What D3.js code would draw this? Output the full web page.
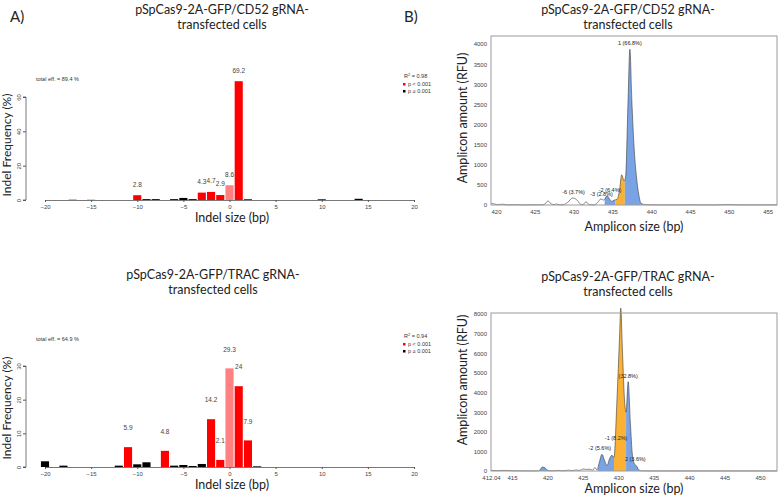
<!DOCTYPE html>
<html><head><meta charset="utf-8">
<script src="https://cdn.jsdelivr.net/npm/d3@7"></script>
<style>body{margin:0;background:#fff;} svg{display:block;}</style>
</head><body>
<svg id="c" width="778" height="499"></svg>
<script>
// ---------- DATA ----------
const indelTicks = [-20, -15, -10, -5, 0, 5, 10, 15, 20];

const cd52Indel = [-17, -15, -10, -9, -8, -6, -5, -4, -3, -2, -1, 0, 1, 2, 10, 14];
const cd52Freq  = [0.15, 0.1, 2.8, 0.5, 0.5, 0.5, 1.2, 0.5, 4.3, 4.7, 2.9, 8.6, 69.2, 0.4, 0.4, 0.7];
const cd52Class = ["ns","ns","sig","ns","ns","ns","ns","ns","sig","sig","sig","wt","sig","ns","ns","ns"];
const cd52FreqTicks = [0, 20, 40, 60];

const tracIndel = [-20, -18, -12, -11, -10, -9, -7, -6, -5, -4, -3, -2, -1, 0, 1, 2, 3];
const tracFreq  = [1.7, 0.4, 0.4, 5.9, 0.8, 1.4, 4.8, 0.4, 0.6, 0.3, 0.9, 14.2, 2.1, 29.3, 24, 7.9, 0.2];
const tracClass = ["ns","ns","ns","sig","ns","ns","sig","ns","ns","ns","ns","sig","sig","wt","sig","sig","ns"];
const tracFreqTicks = [0, 10, 20, 30];

const cd52Stats = ["total eff. = 89.4 %", "0.98"];
const tracStats = ["total eff. = 64.9 %", "0.94"];
const legendLabels = ["p < 0.001", "p \u2265 0.001"];

// electropherogram traces (size in bp, amount in RFU)
const cd52TraceSize = [419.4,419.8,420.2,420.8,421.5,422.5,423.5,424.5,425.5,426.2,426.7,427.1,427.5,427.8,428.2,428.7,429.2,429.9,430.5,430.9,431.2,431.6,432.0,432.6,433.1,433.5,433.9,434.3,434.7,434.9,435.2,435.6,435.9,436.2,436.5,436.7,437.0,437.25,437.5,437.8,438.1,438.4,438.7,439.2,440,442,445,448,450,451,453,456.2];
const cd52TraceRfu  = [40,25,10,20,5,8,3,5,5,10,100,30,10,25,5,10,60,175,110,20,10,80,10,5,60,150,120,230,130,90,120,140,350,750,600,700,2500,3870,2600,1400,700,250,40,10,5,3,5,3,10,5,3,5];
const cd52FillStart = [434.0, 435.4, 436.6];
const cd52FillEnd   = [435.4, 436.6, 438.9];
const cd52FillKind  = ["blue", "orange", "blue"];
const cd52PeakText  = ["1 (66.8%)", "-6 (3.7%)", "-3 (2.8%)", "-2 (6.4%)"];
const cd52PeakSize  = [437.25, 430.0, 433.6, 434.7];
const cd52PeakRfu   = [3870, 175, 120, 230];
const cd52SizeTicks = [420, 425, 430, 435, 440, 445, 450, 455];
const cd52RfuTicks  = [0, 500, 1000, 1500, 2000, 2500, 3000, 3500, 4000];

const tracTraceSize = [412.04,413,414,415,416,417,418,418.8,419.3,419.7,420.1,420.8,421.5,422.2,423,423.5,424,424.6,425,425.5,426,426.4,426.7,427.0,427.3,427.7,428.0,428.4,428.8,429.1,429.4,429.8,430.2,430.35,430.6,430.9,431.1,431.4,431.7,432.0,432.3,432.6,432.9,433.3,434,436,440,445,452.4];
const tracTraceRfu  = [30,20,30,15,10,5,5,10,200,150,20,10,30,10,40,20,50,30,100,80,90,40,180,60,400,850,600,280,650,800,700,3500,7000,8300,6000,3500,3000,4550,2500,800,350,250,50,10,5,3,5,3,5];
const tracFillStart = [418.9, 427.1, 429.4, 431.1];
const tracFillEnd   = [420.1, 429.4, 431.1, 433.0];
const tracFillKind  = ["blue", "blue", "orange", "blue"];
const tracPeakText  = ["(32.8%)", "-2 (5.6%)", "-1 (8.2%)", "2 (3.6%)"];
const tracPeakSize  = [431.4, 427.4, 429.7, 432.4];
const tracPeakRfu   = [4550, 850, 1400, 300];
const tracSizeTicks = [412.04, 415, 420, 425, 430, 435, 440, 445, 450];
const tracRfuTicks  = [0, 1000, 2000, 3000, 4000, 5000, 6000, 7000, 8000];

const titleLine1 = ["pSpCas9-2A-GFP/CD52 gRNA-", "pSpCas9-2A-GFP/TRAC gRNA-"];
const titleLine2 = "transfected cells";

// ---------- DRAWING ----------
const svg = d3.select("#c");
const SANS = "Lato, 'Open Sans', sans-serif";
const RF = "'Liberation Sans', Arial, sans-serif";
const colors = {sig: "#ff0000", wt: "#ff8080", ns: "#000000", blue: "#7aa3e6", orange: "#fbb234"};

function title(cx, y, line1) {
  const t = svg.append("text").attr("x", cx).attr("y", y).attr("text-anchor", "middle")
    .style("font-family", SANS).style("font-size", "12.5px").attr("fill", "#222");
  t.append("tspan").attr("x", cx).text(line1);
  t.append("tspan").attr("x", cx).attr("dy", 15).text(titleLine2);
}

svg.append("text").attr("x", 10).attr("y", 22).text("A)")
  .style("font-family", SANS).style("font-size", "15px").attr("fill", "#222");
svg.append("text").attr("x", 404).attr("y", 22).text("B)")
  .style("font-family", SANS).style("font-size", "15px").attr("fill", "#222");

function barPanel(o) {
  const x = d3.scaleLinear().domain([-20, 20]).range([45, 414]);
  const y = d3.scaleLinear().domain([0, o.yMax]).range([o.base, o.top]);
  const g = svg.append("g");
  const bw = x(0.88) - x(0);
  g.selectAll("rect.bar").data(o.sizes).join("rect").attr("class", "bar")
    .attr("x", (d) => x(d) - bw / 2).attr("width", bw)
    .attr("y", (d, i) => y(o.freq[i])).attr("height", (d, i) => o.base - y(o.freq[i]))
    .attr("fill", (d, i) => colors[o.cls[i]]);
  // value labels
  g.selectAll("text.val").data(o.sizes.filter((d, i) => o.cls[i] !== "ns")).join("text")
    .attr("class", "val")
    .attr("x", (d) => x(d))
    .attr("y", (d) => { const i = o.sizes.indexOf(d); return y(o.freq[i] + o.labOff); })
    .attr("text-anchor", "middle")
    .style("font-family", RF).style("font-size", "6.5px").attr("fill", "#444")
    .text((d) => { const i = o.sizes.indexOf(d); return String(o.freq[i]); });
  // x axis
  const xa = g.append("g").attr("transform", `translate(0,${o.base})`)
    .call(d3.axisBottom(x).tickValues(indelTicks).tickSize(2).tickSizeOuter(0).tickPadding(3));
  xa.select(".domain").attr("stroke", "#555").attr("stroke-width", 0.8);
  xa.selectAll(".tick line").attr("stroke", "#555");
  xa.selectAll("text").style("font-family", RF).style("font-size", "6px").attr("fill", "#444");
  // y axis (R style, rotated labels)
  const ya = g.append("g").attr("transform", `translate(26,0)`)
    .call(d3.axisLeft(y).tickValues(o.yTicks).tickSize(3).tickSizeOuter(0));
  ya.select(".domain").attr("stroke", "#555").attr("stroke-width", 0.8)
    .attr("d", `M-3,${y(o.yTicks[0])}H0V${y(o.yTicks[o.yTicks.length - 1])}H-3`);
  ya.selectAll(".tick line").attr("stroke", "#555");
  ya.selectAll("text").attr("x", 0).attr("y", -5).attr("dy", 0)
    .attr("transform", "rotate(-90)").attr("text-anchor", "middle")
    .style("font-family", RF).style("font-size", "6px").attr("fill", "#444");
  // axis titles
  svg.append("text").attr("transform", `translate(11,${o.yLabY}) rotate(-90)`)
    .attr("text-anchor", "middle").text("Indel Frequency (%)")
    .style("font-family", SANS).style("font-size", "12px").attr("fill", "#222");
  svg.append("text").attr("x", 232).attr("y", o.base + 22).attr("text-anchor", "middle")
    .text("Indel size (bp)").style("font-family", SANS).style("font-size", "12.5px").attr("fill", "#222");
  // stats and legend
  svg.append("text").attr("x", 36).attr("y", o.statY).text(o.stats[0])
    .style("font-family", RF).style("font-size", "5.5px").attr("fill", "#333");
  const r2 = svg.append("text").attr("x", 404).attr("y", o.statY - 3)
    .style("font-family", RF).style("font-size", "5.5px").attr("fill", "#333");
  r2.append("tspan").text("R");
  r2.append("tspan").attr("dy", -2).style("font-size", "4px").text("2");
  r2.append("tspan").attr("dy", 2).text(" = " + o.stats[1]);
  legendLabels.forEach((l, i) => {
    const ly = o.statY + 5 + i * 7;
    svg.append("rect").attr("x", 403).attr("y", ly - 3).attr("width", 2.5).attr("height", 2.5)
      .attr("fill", i === 0 ? colors.sig : colors.ns);
    svg.append("text").attr("x", 408).attr("y", ly).text(l)
      .style("font-family", RF).style("font-size", "5.5px").attr("fill", "#333");
  });
}

function tracePanel(o) {
  const x = d3.scaleLinear().domain(o.xDom).range([491, 777]);
  const y = d3.scaleLinear().domain(o.yDom).range([o.bottom, o.top]);
  const g = svg.append("g");
  const pts = o.sizes.map((s, i) => [s, o.rfu[i]]);
  const area = d3.area().x((d) => x(d[0])).y0(y(0)).y1((d) => y(d[1])).curve(d3.curveMonotoneX);
  const line = d3.line().x((d) => x(d[0])).y((d) => y(d[1])).curve(d3.curveMonotoneX);
  o.fillStart.forEach((s, i) => {
    const id = o.id + "clip" + i;
    svg.append("clipPath").attr("id", id).append("rect")
      .attr("x", x(s)).attr("width", x(o.fillEnd[i]) - x(s))
      .attr("y", 0).attr("height", 499);
    g.append("path").attr("d", area(pts)).attr("fill", colors[o.fillKind[i]])
      .attr("clip-path", `url(#${id})`);
  });
  g.append("path").attr("d", line(pts)).attr("fill", "none").attr("stroke", "#3a3a3a").attr("stroke-width", 0.6);
  // frame
  g.append("rect").attr("x", 491).attr("y", o.top0).attr("width", 286).attr("height", o.bottom - o.top0)
    .attr("fill", "none").attr("stroke", "#9a9a9a").attr("stroke-width", 1);
  // ticks
  const xa = g.append("g").attr("transform", `translate(0,${o.bottom})`)
    .call(d3.axisBottom(x).tickValues(o.xTicks).tickSize(0).tickPadding(5).tickFormat((d) => String(d)));
  xa.select(".domain").remove();
  xa.selectAll("text").style("font-family", RF).style("font-size", "6px").attr("fill", "#444");
  const ya = g.append("g").attr("transform", `translate(491,0)`)
    .call(d3.axisLeft(y).tickValues(o.yTicks).tickSize(0).tickPadding(4).tickFormat(d3.format("d")));
  ya.select(".domain").remove();
  ya.selectAll("text").style("font-family", RF).style("font-size", "6px").attr("fill", "#444");
  // peak labels
  o.peakText.forEach((t, i) => {
    g.append("text").attr("x", x(o.peakSize[i])).attr("y", y(o.peakRfu[i]) - 4)
      .attr("text-anchor", "middle").text(t)
      .style("font-family", RF).style("font-size", "5.5px").attr("fill", "#222");
  });
  svg.append("text").attr("transform", `translate(467,${o.yLabY}) rotate(-90)`)
    .attr("text-anchor", "middle").text("Amplicon amount (RFU)")
    .style("font-family", SANS).style("font-size", "12.5px").attr("fill", "#222");
  svg.append("text").attr("x", 634).attr("y", o.xLabY).attr("text-anchor", "middle")
    .text("Amplicon size (bp)").style("font-family", SANS).style("font-size", "12.5px").attr("fill", "#222");
}

title(222, 14, titleLine1[0]);
title(213, 279, titleLine1[1]);
title(628, 14, titleLine1[0]);
title(628, 281, titleLine1[1]);

barPanel({sizes: cd52Indel, freq: cd52Freq, cls: cd52Class, yMax: 60, base: 200, top: 97,
  yTicks: cd52FreqTicks, labOff: 5, yLabY: 145, stats: cd52Stats, statY: 81});
barPanel({sizes: tracIndel, freq: tracFreq, cls: tracClass, yMax: 30, base: 467, top: 366,
  yTicks: tracFreqTicks, labOff: 5, yLabY: 408, stats: tracStats, statY: 341});

tracePanel({id: "a", sizes: cd52TraceSize, rfu: cd52TraceRfu, fillStart: cd52FillStart, fillEnd: cd52FillEnd,
  fillKind: cd52FillKind, peakText: cd52PeakText, peakSize: cd52PeakSize, peakRfu: cd52PeakRfu,
  xDom: [419.36, 456.2], yDom: [0, 4000], top: 44, top0: 36, bottom: 205,
  xTicks: cd52SizeTicks, yTicks: cd52RfuTicks, yLabY: 118, xLabY: 231});
tracePanel({id: "b", sizes: tracTraceSize, rfu: tracTraceRfu, fillStart: tracFillStart, fillEnd: tracFillEnd,
  fillKind: tracFillKind, peakText: tracPeakText, peakSize: tracPeakSize, peakRfu: tracPeakRfu,
  xDom: [412.04, 452.4], yDom: [0, 8000], top: 314, top0: 313, bottom: 471,
  xTicks: tracSizeTicks, yTicks: tracRfuTicks, yLabY: 380, xLabY: 493});
</script>
</body></html>
